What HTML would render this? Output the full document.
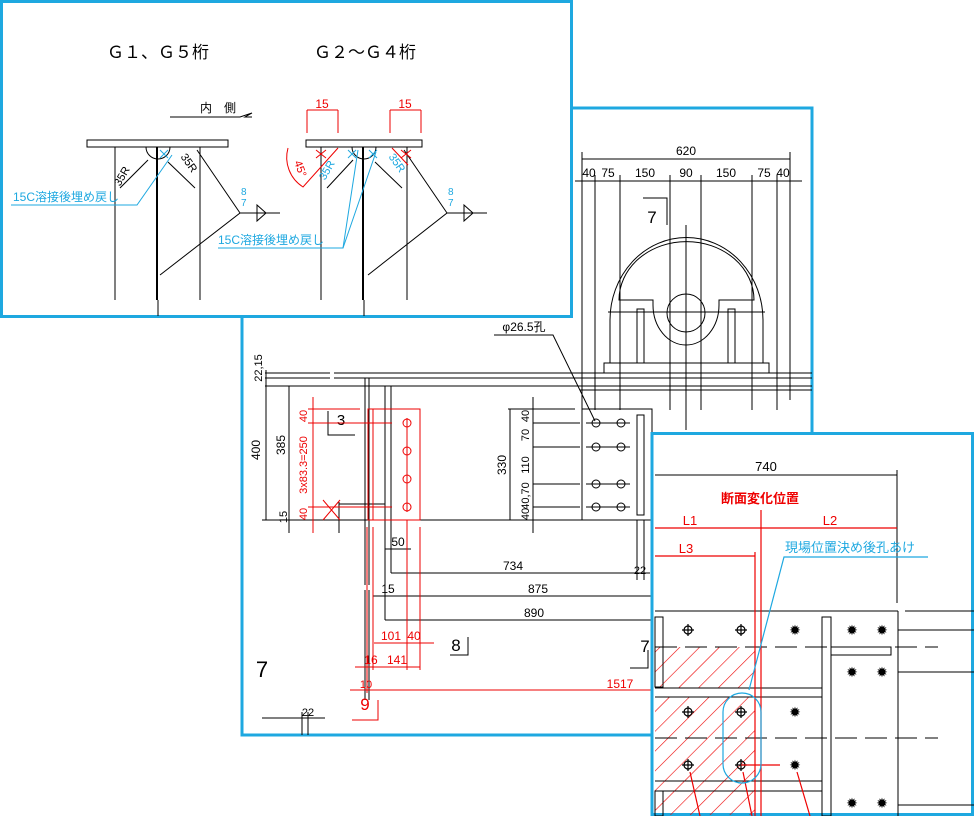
<!DOCTYPE html>
<html><head><meta charset="utf-8"><style>
html,body{margin:0;padding:0;background:#fff;}
svg{display:block;}
text{font-family:"Liberation Sans","Noto Sans CJK JP",sans-serif;}
</style></head><body>
<svg width="974" height="816" viewBox="0 0 974 816" xmlns="http://www.w3.org/2000/svg">
<defs>
<pattern id="hat" patternUnits="userSpaceOnUse" width="14" height="14" patternTransform="rotate(45)">
<line x1="0" y1="0" x2="0" y2="14" stroke="#e00" stroke-width="1.2"/>
</pattern>
</defs>
<rect width="974" height="816" fill="#fff"/>

<!-- MIDDLE PANEL -->
<g>
<rect x="242" y="108" width="570" height="627" fill="#fff" stroke="#1ea8e0" stroke-width="3"/>
<g stroke="#000" stroke-width="1" fill="none">
<!-- top dims -->
<line x1="582" y1="159" x2="790" y2="159"/>
<line x1="575" y1="181" x2="802" y2="181"/>
<g>
<line x1="582" y1="152" x2="582" y2="410"/>
<line x1="595" y1="175" x2="595" y2="410"/>
<line x1="620" y1="175" x2="620" y2="410"/>
<line x1="670" y1="175" x2="670" y2="410"/>
<line x1="701" y1="175" x2="701" y2="410"/>
<line x1="752" y1="175" x2="752" y2="410"/>
<line x1="777" y1="175" x2="777" y2="410"/>
<line x1="790" y1="152" x2="790" y2="400"/>
</g>
<!-- arch -->
<path d="M610 363 L610 320 A76 82 0 0 1 763 320 L763 363"/>
<path d="M619 300 A67 58 0 0 1 754 300 L719 300 L719 305 A33 40 0 0 1 653 305 L653 300 Z"/>
<circle cx="686" cy="313" r="19"/>
<line x1="686" y1="225" x2="686" y2="430"/>
<line x1="608" y1="312" x2="765" y2="312"/>
<rect x="637" y="309" width="7" height="54"/>
<rect x="728" y="309" width="7" height="54"/>
<rect x="604" y="363" width="165" height="10"/>
<!-- 7 marker -->
<polyline points="643,198 667,198 667,225"/>
<!-- girder lines -->
<line x1="265" y1="373" x2="330" y2="373"/><line x1="334" y1="373" x2="812" y2="373"/>
<line x1="265" y1="378" x2="330" y2="378"/><line x1="334" y1="378" x2="812" y2="378"/>
<line x1="265" y1="386" x2="812" y2="386"/>
<line x1="580" y1="390" x2="812" y2="390"/>
<line x1="365" y1="378" x2="365" y2="585"/><line x1="369" y1="378" x2="369" y2="585"/>
<line x1="365" y1="590" x2="365" y2="700"/><line x1="369" y1="590" x2="369" y2="700"/>
<line x1="385" y1="386" x2="385" y2="620"/><line x1="391" y1="386" x2="391" y2="573"/>
<line x1="262" y1="520" x2="655" y2="520"/>
<!-- dims left -->
<line x1="266" y1="370" x2="266" y2="520"/>
<line x1="289" y1="386" x2="289" y2="533"/>
<line x1="339" y1="502" x2="339" y2="533"/>
<line x1="339" y1="504" x2="385" y2="504"/>
<polyline points="328,411 328,435 355,435"/>
<!-- bolt box -->
<rect x="582" y="409" width="70" height="111"/>
<rect x="637" y="415" width="7" height="100"/>
<line x1="508" y1="409" x2="575" y2="409"/>
<line x1="510" y1="409" x2="510" y2="520"/>
<line x1="533" y1="397" x2="533" y2="533"/>
<line x1="533" y1="423" x2="580" y2="423"/><line x1="533" y1="447" x2="580" y2="447"/>
<line x1="533" y1="484" x2="580" y2="484"/><line x1="533" y1="507" x2="580" y2="507"/>
<line x1="586" y1="423" x2="630" y2="423"/><line x1="586" y1="447" x2="630" y2="447"/>
<line x1="586" y1="484" x2="630" y2="484"/><line x1="586" y1="507" x2="630" y2="507"/>
<circle cx="596" cy="423" r="4"/><circle cx="621" cy="423" r="4"/>
<circle cx="596" cy="447" r="4"/><circle cx="621" cy="447" r="4"/>
<circle cx="596" cy="484" r="4"/><circle cx="621" cy="484" r="4"/>
<circle cx="596" cy="507" r="4"/><circle cx="621" cy="507" r="4"/>
<polyline points="494,335 553,335 595,421"/>
<!-- lower dims -->
<line x1="385" y1="549" x2="411" y2="549"/>
<line x1="391" y1="573" x2="650" y2="573"/>
<line x1="373" y1="596" x2="652" y2="596"/>
<line x1="385" y1="620" x2="652" y2="620"/>
<line x1="637" y1="520" x2="637" y2="580"/><line x1="644" y1="520" x2="644" y2="580"/>
<polyline points="450,655 468,655 468,637"/>
<polyline points="630,668 648,668 648,650"/>
<line x1="262" y1="718" x2="325" y2="718"/>
<line x1="302" y1="712" x2="302" y2="735"/><line x1="308" y1="712" x2="308" y2="735"/>
</g>
<g font-size="12" fill="#000" text-anchor="middle">
<text x="686" y="155">620</text>
<text x="589" y="177">40</text><text x="608" y="177">75</text><text x="645" y="177">150</text>
<text x="686" y="177">90</text><text x="726" y="177">150</text><text x="764" y="177">75</text><text x="783" y="177">40</text>
<text x="652" y="223" font-size="17">7</text>
<text x="524" y="331">φ26.5孔</text>
<text x="260" y="450" transform="rotate(-90 260 450)">400</text>
<text x="285" y="445" transform="rotate(-90 285 445)">385</text>
<text x="262" y="368" transform="rotate(-90 262 368)" font-size="11">22,15</text>
<text x="287" y="517" transform="rotate(-90 287 517)" font-size="11">15</text>
<text x="506" y="465" transform="rotate(-90 506 465)">330</text>
<text x="529" y="416" transform="rotate(-90 529 416)" font-size="11">40</text>
<text x="529" y="435" transform="rotate(-90 529 435)" font-size="11">70</text>
<text x="529" y="465" transform="rotate(-90 529 465)" font-size="11">110</text>
<text x="529" y="496" transform="rotate(-90 529 496)" font-size="11">40,70</text>
<text x="529" y="514" transform="rotate(-90 529 514)" font-size="11">40</text>
<text x="341" y="425" font-size="15">3</text>
<text x="398" y="546">50</text>
<text x="513" y="570">734</text>
<text x="538" y="593">875</text>
<text x="534" y="617">890</text>
<text x="388" y="593">15</text>
<text x="640" y="574" font-size="11">22</text>
<text x="262" y="677" font-size="22">7</text>
<text x="456" y="651" font-size="17">8</text>
<text x="645" y="652" font-size="17">7</text>
<text x="308" y="716" font-size="11">22</text>
</g>
<!-- red -->
<g stroke="#e00" stroke-width="1" fill="none">
<rect x="368" y="409" width="52" height="111"/>
<line x1="373" y1="409" x2="373" y2="520"/>
<line x1="407" y1="418" x2="407" y2="512"/>
<circle cx="407" cy="423" r="4"/><circle cx="407" cy="451" r="4"/>
<circle cx="407" cy="479" r="4"/><circle cx="407" cy="507" r="4"/>
<line x1="313" y1="397" x2="313" y2="533"/>
<line x1="308" y1="409" x2="360" y2="409"/>
<line x1="308" y1="423" x2="392" y2="423"/>
<line x1="308" y1="507" x2="392" y2="507"/>
<line x1="323" y1="500" x2="340" y2="520"/><line x1="323" y1="520" x2="340" y2="500"/>
<line x1="367" y1="527" x2="367" y2="693"/>
<line x1="373" y1="527" x2="373" y2="670"/>
<line x1="407" y1="520" x2="407" y2="670"/>
<line x1="420" y1="527" x2="420" y2="670"/>
<line x1="374" y1="643" x2="434" y2="643"/>
<line x1="355" y1="667" x2="420" y2="667"/>
<line x1="350" y1="690" x2="652" y2="690"/>
<polyline points="352,720 378,720 378,700"/>
</g>
<g font-size="12" fill="#e00" text-anchor="middle">
<text x="307" y="416" transform="rotate(-90 307 416)" font-size="11">40</text>
<text x="307" y="465" transform="rotate(-90 307 465)" font-size="11">3x83.3=250</text>
<text x="307" y="514" transform="rotate(-90 307 514)" font-size="11">40</text>
<text x="391" y="640">101</text><text x="414" y="640">40</text>
<text x="371" y="664">16</text><text x="397" y="664">141</text>
<text x="366" y="688" font-size="11">10</text>
<text x="620" y="688">1517</text>
<text x="365" y="710" font-size="17">9</text>
</g>
</g>

<!-- TOP-LEFT PANEL -->
<g>
<rect x="1.5" y="1.5" width="570" height="315" fill="#fff" stroke="#1ea8e0" stroke-width="3"/>
<g font-size="17" fill="#000" text-anchor="middle">
<text x="158" y="58">Ｇ１、Ｇ５桁</text>
<text x="365" y="58">Ｇ２～Ｇ４桁</text>
<text x="218" y="112" font-size="12">内　側</text>
</g>
<g stroke="#000" stroke-width="1" fill="none">
<polyline points="170,117 240,117 252,113 245,117 252,117"/>
<rect x="87" y="140" width="141" height="7"/>
<line x1="115" y1="147" x2="115" y2="300"/>
<line x1="200" y1="147" x2="200" y2="300"/>
<line x1="157" y1="147" x2="157" y2="300" stroke-width="2"/>
<line x1="158" y1="300" x2="158" y2="316"/>
<path d="M146 147 A12 12 0 0 0 170 147"/>
<line x1="120" y1="188" x2="148" y2="160"/><line x1="195" y1="188" x2="168" y2="162"/>
<polyline points="197,150 240,213 160,275"/>
<line x1="240" y1="213" x2="280" y2="213"/>
<polygon points="257,205 266,213 257,221"/>
<rect x="306" y="140" width="116" height="7"/>
<line x1="321" y1="147" x2="321" y2="300"/>
<line x1="407" y1="147" x2="407" y2="300"/>
<line x1="363" y1="147" x2="363" y2="300" stroke-width="2"/>
<line x1="364" y1="300" x2="364" y2="316"/>
<path d="M352 147 A12 12 0 0 0 376 147"/>
<line x1="327" y1="188" x2="353" y2="160"/><line x1="402" y1="188" x2="375" y2="162"/>
<polyline points="404,150 447,213 368,275"/>
<line x1="447" y1="213" x2="487" y2="213"/>
<polygon points="464,205 473,213 464,221"/>
</g>
<g stroke="#e00" stroke-width="1" fill="none">
<line x1="307" y1="110" x2="307" y2="133"/><line x1="338" y1="110" x2="338" y2="133"/>
<line x1="307" y1="110" x2="338" y2="110"/>
<line x1="390" y1="110" x2="390" y2="133"/><line x1="421" y1="110" x2="421" y2="133"/>
<line x1="390" y1="110" x2="421" y2="110"/>
<path d="M288 148 A35 35 0 0 0 303 187 L338 148"/>
<line x1="316" y1="150" x2="326" y2="158"/><line x1="326" y1="150" x2="316" y2="158"/>
<line x1="401" y1="150" x2="411" y2="158"/><line x1="411" y1="150" x2="401" y2="158"/>
<line x1="392" y1="148" x2="408" y2="165"/>
</g>
<g font-size="12" fill="#e00" text-anchor="middle">
<text x="322" y="108">15</text><text x="405" y="108">15</text>
<text x="297" y="170" transform="rotate(70 297 170)" font-size="11">45°</text>
</g>
<g font-size="11" fill="#000" text-anchor="middle">
<text x="125" y="178" transform="rotate(-60 125 178)">35R</text>
<text x="186" y="165" transform="rotate(55 186 165)">35R</text>
<text x="330" y="172" transform="rotate(-60 330 172)" fill="#1ea8e0">35R</text>
<text x="394" y="165" transform="rotate(55 394 165)" fill="#1ea8e0">35R</text>
</g>
<g stroke="#1ea8e0" stroke-width="1" fill="none">
<polyline points="11,205 137,205 172,155"/>
<polyline points="218,248 343,248 358,150"/>
<line x1="343" y1="248" x2="376" y2="152"/>
<line x1="160" y1="150" x2="168" y2="158"/><line x1="168" y1="150" x2="160" y2="158"/>
<line x1="348" y1="150" x2="356" y2="158"/><line x1="356" y1="150" x2="348" y2="158"/>
<line x1="369" y1="150" x2="377" y2="158"/><line x1="377" y1="150" x2="369" y2="158"/>
</g>
<g font-size="12" fill="#1ea8e0">
<text x="13" y="201">15C溶接後埋め戻し</text>
<text x="218" y="244">15C溶接後埋め戻し</text>
<text x="241" y="195" font-size="10">8</text><text x="241" y="206" font-size="10">7</text>
<text x="448" y="195" font-size="10">8</text><text x="448" y="206" font-size="10">7</text>
</g>
</g>

<!-- BOTTOM-RIGHT PANEL -->
<g>
<rect x="652" y="433.5" width="320.5" height="381" fill="#fff" stroke="#1ea8e0" stroke-width="3"/>
<path d="M655 647 L755 647 L755 688 L655 688 Z M655 697 L755 697 L755 815 L655 815 Z" fill="url(#hat)"/>
<g stroke="#000" stroke-width="1" fill="none">
<line x1="655" y1="475" x2="897" y2="475"/>
<line x1="897" y1="470" x2="897" y2="603"/>
<line x1="655" y1="611" x2="898" y2="611"/><line x1="905" y1="611" x2="974" y2="611"/>
<line x1="898" y1="630" x2="974" y2="630"/>
<line x1="898" y1="672" x2="974" y2="672"/>
<line x1="898" y1="805" x2="974" y2="805"/>
<line x1="898" y1="611" x2="898" y2="816"/>
<rect x="655" y="617" width="8" height="70"/>
<rect x="822" y="617" width="9" height="199"/>
<rect x="831" y="647" width="60" height="8"/>
<line x1="655" y1="688" x2="822" y2="688"/><line x1="655" y1="697" x2="822" y2="697"/>
<line x1="655" y1="781" x2="822" y2="781"/><line x1="655" y1="791" x2="822" y2="791"/>
<rect x="655" y="791" width="8" height="25"/>
<line x1="655" y1="647" x2="938" y2="647" stroke-dasharray="22,8"/>
<line x1="655" y1="738" x2="938" y2="738" stroke-dasharray="22,8"/>
</g>
<g stroke="#000" stroke-width="1.2" fill="none">
<circle cx="688" cy="630" r="4"/><path d="M682 630h12M688 624v12"/>
<circle cx="741" cy="630" r="4"/><path d="M735 630h12M741 624v12"/>
<circle cx="688" cy="712" r="4"/><path d="M682 712h12M688 706v12"/>
<circle cx="741" cy="712" r="4"/><path d="M735 712h12M741 706v12"/>
<circle cx="688" cy="765" r="4"/><path d="M682 765h12M688 759v12"/>
<circle cx="741" cy="765" r="4"/><path d="M735 765h12M741 759v12"/>
</g>
<g fill="#000" font-size="14" text-anchor="middle">
<text x="795" y="635">✹</text><text x="852" y="635">✹</text><text x="882" y="635">✹</text>
<text x="852" y="677">✹</text><text x="882" y="677">✹</text>
<text x="795" y="717">✹</text><text x="795" y="770">✹</text>
<text x="852" y="808">✹</text><text x="882" y="808">✹</text>
<text x="766" y="471" font-size="13">740</text>
</g>
<g stroke="#e00" stroke-width="1.2" fill="none">
<line x1="761" y1="510" x2="761" y2="816"/>
<line x1="755" y1="552" x2="755" y2="816"/>
<line x1="655" y1="528" x2="897" y2="528"/>
<line x1="655" y1="556" x2="755" y2="556"/>
<line x1="741" y1="765" x2="780" y2="765"/>
<line x1="690" y1="772" x2="700" y2="816"/>
<line x1="743" y1="772" x2="752" y2="816"/>
<line x1="797" y1="772" x2="810" y2="816"/>
</g>
<g fill="#e00" font-size="13" text-anchor="middle">
<text x="760" y="503" font-weight="bold">断面変化位置</text>
<text x="690" y="525">L1</text><text x="830" y="525">L2</text><text x="686" y="553">L3</text>
</g>
<g stroke="#1ea8e0" stroke-width="1.2" fill="none">
<polyline points="928,557 784,557 749,690"/>
<rect x="723" y="693" width="38" height="90" rx="19"/>
</g>
<text x="785" y="552" font-size="13" fill="#1ea8e0">現場位置決め後孔あけ</text>
</g>
</svg>
</body></html>
